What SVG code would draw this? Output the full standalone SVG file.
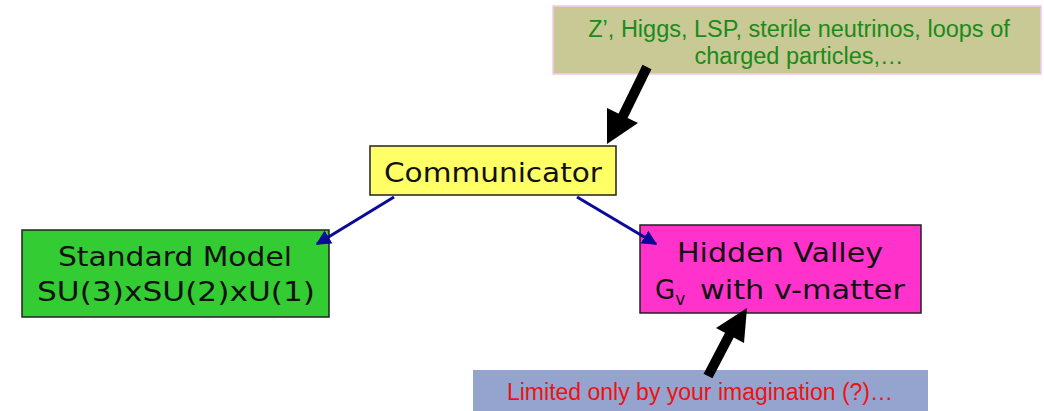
<svg xmlns="http://www.w3.org/2000/svg" width="1044" height="411" viewBox="0 0 1044 411">
<style>
.box{stroke:#222;stroke-width:1.5}
.v{font-family:"DejaVu Sans",Verdana,sans-serif;font-size:26px;fill:#111;text-anchor:middle}
.a{font-family:"Liberation Sans",Arial,sans-serif;font-size:23.5px;text-anchor:middle}
.blue{stroke:#0a0a9a;stroke-width:3;fill:none;marker-end:url(#bh)}
.black{stroke:#000;stroke-width:10;fill:none}
</style>
<defs>
<marker id="bh" viewBox="0 0 10 10" refX="9" refY="5" markerWidth="5" markerHeight="5" orient="auto" markerUnits="strokeWidth">
<path d="M0,0 L10,5 L0,10 z" fill="#0a0a9a"/>
</marker>
</defs>
<rect width="1044" height="411" fill="#fff"/>
<g id="top">
<rect x="553" y="6" width="488" height="68" fill="#c9c996" stroke="#f4c8f0" stroke-width="1.5"/>
<text class="a" x="799" y="37" fill="#1a8a1a">Z’, Higgs, LSP, sterile neutrinos, loops of</text>
<text class="a" x="799" y="64" fill="#1a8a1a">charged particles,…</text>
</g>
<g id="communicator">
<rect class="box" x="370" y="146" width="246" height="49" fill="#ffff66"/>
<text class="v" x="493" y="182" textLength="218" lengthAdjust="spacingAndGlyphs">Communicator</text>
</g>
<g id="standard">
<rect class="box" x="22" y="230" width="307" height="87" fill="#33cc33"/>
<text class="v" x="175" y="266" textLength="234" lengthAdjust="spacingAndGlyphs">Standard Model</text>
<text class="v" x="176" y="301" textLength="278" lengthAdjust="spacingAndGlyphs">SU(3)xSU(2)xU(1)</text>
</g>
<g id="hidden">
<rect class="box" x="640" y="225" width="281" height="88" fill="#ff33cc"/>
<text class="v" x="780" y="262" textLength="206" lengthAdjust="spacingAndGlyphs">Hidden Valley</text>
<text class="v" x="655" y="299" style="text-anchor:start">G<tspan font-size="17" dy="6">v</tspan></text>
<text class="v" x="700" y="299" style="text-anchor:start" textLength="205" lengthAdjust="spacingAndGlyphs">with v-matter</text>
</g>
<g id="bottom">
<rect x="473" y="370" width="455" height="45" fill="#95a3cf"/>
<text class="a" x="700" y="400" fill="#ee1111" style="font-size:23px">Limited only by your imagination (?)…</text>
</g>
<g id="connectors">
<path class="blue" d="M394,197 L317,244"/>
<path class="blue" d="M577,197 L656,244"/>
<path class="black" d="M647,67 L622,118"/>
<path d="M607,144 L607,108 L638,123 z" fill="#000"/>
<path class="black" d="M708,376 L730,334"/>
<path d="M747,308 L744,343 L716,328 z" fill="#000"/>
</g>
</svg>
